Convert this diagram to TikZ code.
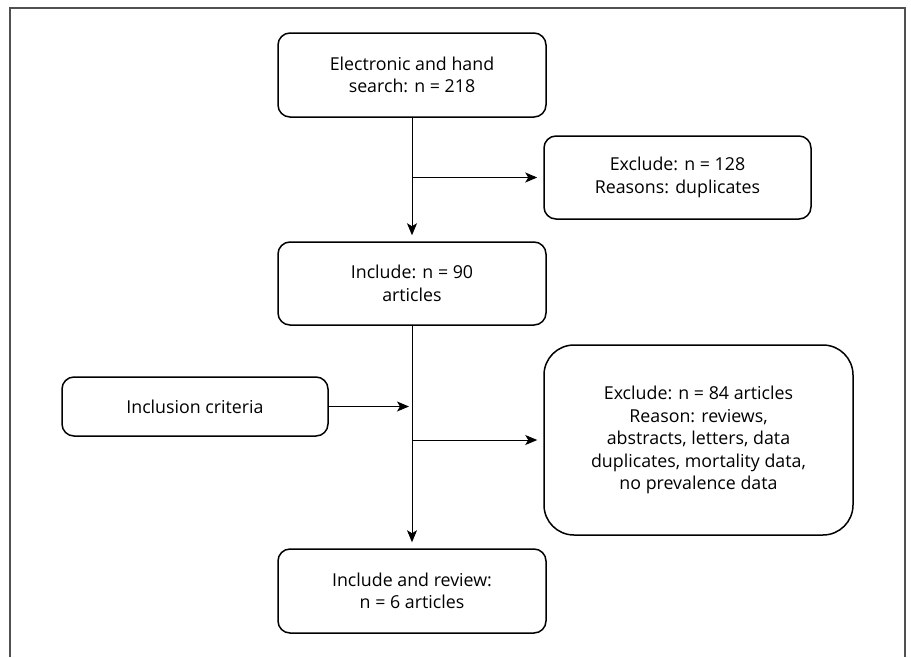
\documentclass[tikz,border=0pt]{standalone}
\usepackage{fontspec}
\setmainfont{Open Sans}
\usetikzlibrary{arrows.meta}
\definecolor{FrameGray}{RGB}{80,80,80}

\begin{document}
\begin{tikzpicture}[x=1pt,y=-1pt,
    stage/.style={draw=black,line width=1.5pt,rounded corners=12pt,align=center,
        font=\fontsize{17.8}{22.5}\selectfont,inner sep=2pt},
    flow/.style={line width=1pt,-{Stealth[length=12pt,width=10pt,inset=3pt]},shorten >=6pt}]
    \useasboundingbox (0,0) rectangle (911,657);
    \draw[FrameGray,line width=1.8pt] (10,657) -- (10,8) -- (905,8) -- (905,657);
    \node[stage,minimum width=268pt,minimum height=84pt] (search) at (412,75) {Electronic and hand\\search: n = 218};
    \node[stage,minimum width=267pt,minimum height=83pt] (dupl) at (677.5,177.5) {Exclude: n = 128\\Reasons: duplicates};
    \node[stage,minimum width=268pt,minimum height=83pt] (incl) at (412,283.5) {Include: n = 90\\articles};
    \node[stage,minimum width=266pt,minimum height=59pt] (crit) at (195,406.5) {Inclusion criteria};
    \node[stage,minimum width=309pt,minimum height=190pt,rounded corners=30pt] (excl) at (698.5,440)
        {Exclude: n = 84 articles\\Reason: reviews,\\abstracts, letters, data\\duplicates, mortality data,\\no prevalence data};
    \node[stage,minimum width=268pt,minimum height=84pt] (review) at (412,591) {Include and review:\\n = 6 articles};
    \coordinate (b1) at (search.south |- dupl.west);
    \coordinate (b2) at (incl.south |- crit.east);
    \coordinate (b3) at (incl.south |- excl.west);
    \draw[flow] (search) -- (incl);
    \draw[flow] (b1) -- (dupl);
    \draw[flow] (incl) -- (review);
    \draw[flow,shorten >=3pt] (crit) -- (b2);
    \draw[flow] (b3) -- (excl);
\end{tikzpicture}
\end{document}
